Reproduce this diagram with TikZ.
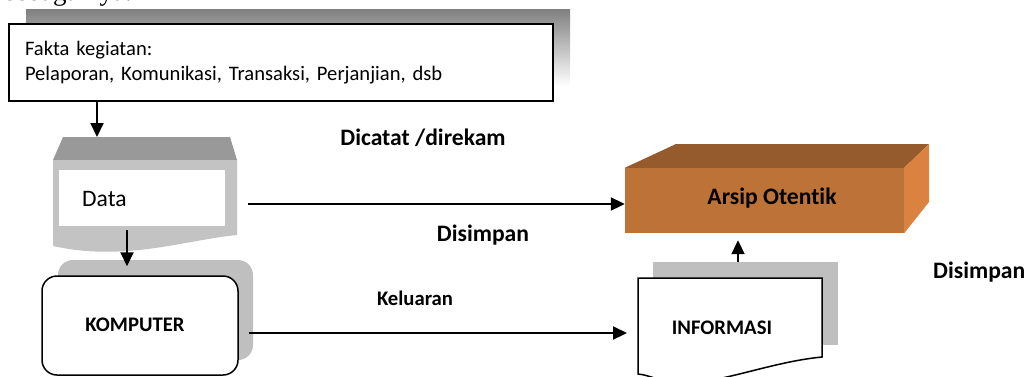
\documentclass[tikz,border=0pt]{standalone}
\usepackage{fontspec}
\setmainfont{Carlito}[Ligatures=NoCommon]
\newfontfamily\runningfont{Liberation Serif}
\usetikzlibrary{arrows.meta}
\definecolor{shade}{HTML}{BFBFBF}
\definecolor{tapetop}{HTML}{999999}
\definecolor{tapebody}{HTML}{C3C3C3}
\definecolor{boxfront}{HTML}{BD7337}
\definecolor{boxtop}{HTML}{955B2C}
\definecolor{boxside}{HTML}{DC8240}
\tikzset{
  arr/.style={line width=2pt, -{Triangle[length=14pt,width=13pt]}},
  bigbold/.style={font=\fontsize{23.6}{28}\selectfont\bfseries, inner sep=0pt},
  smallbold/.style={font=\fontsize{20.7}{25}\selectfont\bfseries, inner sep=0pt},
  hidden/.style={inner sep=0pt, outer sep=0pt},
}
\begin{document}
\begin{tikzpicture}[x=1pt,y=-1pt]
\useasboundingbox (0,0) rectangle (1036,376);
\clip (0,0) rectangle (1036,376);

% running text of the page above the chart
\node[anchor=base west, inner sep=0pt, font=\runningfont\fontsize{27}{30}\selectfont] (running) at (5,0.5) {sebagainya.};

% activity facts box
\fill[shade] (26,9) rectangle (570,86);
\node[draw, fill=white, line width=2pt, minimum width=544pt, minimum height=77pt,
      text width=512pt, inner xsep=16pt, align=left,
      font=\fontsize{20.6}{25}\selectfont] (fakta) at (281,62.5)
  {Fakta kegiatan:\\Pelaporan, Komunikasi, Transaksi, Perjanjian, dsb};

% data (punched-tape style document)
\fill[tapetop] (63,137) -- (230,137) -- (237,160) -- (53,160) -- cycle;
\fill[tapebody] (53,160) -- (237,160) -- (237,235)
  .. controls (185,240) and (125,262) .. (53,246) -- cycle;
\fill[white] (59,170) rectangle (225,226);
\node[hidden, minimum width=184pt, minimum height=93pt] (data) at (145,183.5) {};
\node[anchor=west, inner sep=0pt, font=\fontsize{23.6}{28}\selectfont] (datalabel) at (82,199) {Data};

% computer
\node[fill=shade, rounded corners=15pt, minimum width=195pt, minimum height=100pt] (kshadow) at (155.5,310) {};
\node[draw, fill=white, line width=1.5pt, rounded corners=15pt, minimum width=196pt,
      minimum height=99pt] (komp) at (140,325.5) {};
\node[smallbold] (komplabel) at (135,325) {KOMPUTER};

% authentic archive block
\node[fill=boxfront, minimum width=279pt, minimum height=65pt] (arsip) at (764.5,200.5) {};
\fill[boxtop] (arsip.north west) -- (676,144) -- (929,144) -- (arsip.north east) -- cycle;
\fill[boxside] (arsip.north east) -- (929,144) -- (929,202) -- (arsip.south east) -- cycle;
\node[bigbold] (arsiplabel) at (772,198) {Arsip Otentik};

% information document
\node[fill=shade, minimum width=185pt, minimum height=83pt] (infoshadow) at (745.5,303.5) {};
\draw[fill=white, line width=1.5pt] (638,278) -- (822,278) -- (822,357)
  .. controls (770,362) and (720,384) .. (680,383)
  .. controls (660,382) and (650,375) .. (638,374) -- cycle;
\node[hidden, minimum width=184pt, minimum height=96pt] (info) at (730,326) {};
\node[smallbold] (infolabel) at (722,328) {INFORMASI};

% flow labels
\node[bigbold] (dicatat) at (423,138) {Dicatat /direkam};
\node[bigbold] (simpan1) at (483,235) {Disimpan};
\node[smallbold] (keluaran) at (415,298) {Keluaran};
\node[bigbold, anchor=west] (simpan2) at (933,272) {Disimpan};

% connectors
\coordinate (c1) at (97,0);
\coordinate (c2) at (127,0);
\coordinate (r1) at (0,204);
\coordinate (r2) at (0,333);
\coordinate (c3) at (738,0);
\draw[arr] (fakta.south -| c1) -- (data.north -| c1);
\draw[arr, shorten >=9pt] (data.south -| c2) -- (komp.north -| c2);
\draw[arr, shorten <=11pt] (data.east |- r1) -- (arsip.west |- r1);
\draw[arr, shorten <=10pt, shorten >=11pt] (komp.east |- r2) -- (info.west |- r2);
\draw[arr, shorten >=7pt] (infoshadow.north -| c3) -- (arsip.south -| c3);
\end{tikzpicture}
\end{document}
